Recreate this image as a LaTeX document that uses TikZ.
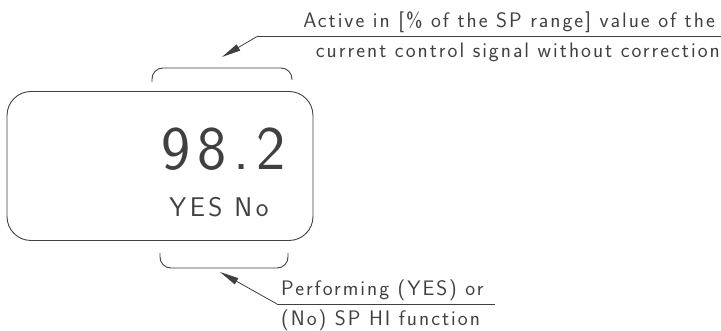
\documentclass[tikz,border=0pt]{standalone}
\usepackage{fontspec}
\setsansfont{Latin Modern Sans}
\usetikzlibrary{arrows.meta}
\definecolor{inkgray}{HTML}{404040}
\tikzstyle{display} = [
    rectangle,
    rounded corners=24pt,
    minimum width=306pt,
    minimum height=149pt,
    draw=inkgray,
    line width=0.9pt
]
\tikzstyle{label} = [
    text=inkgray,
    font=\sffamily\fontsize{21}{23}\selectfont\addfontfeature{LetterSpace=9.5},
    inner sep=0pt
]
\tikzstyle{bracket} = [draw=inkgray, line width=0.9pt, rounded corners=11pt]
\tikzstyle{leader} = [draw=inkgray, line width=0.8pt]
\tikzstyle{arrow} = [leader, -{Triangle[length=19pt,width=7pt]}]

\begin{document}
\begin{tikzpicture}[x=1pt, y=1pt]
\useasboundingbox (0,0) rectangle (721,-331);

\node (disp) [display] at (160,-166) {};

\node (value) [label, font=\sffamily\fontsize{62}{64}\selectfont\addfontfeature{LetterSpace=11}] at (224,-149) {98.2};

\node (state) [label, font=\sffamily\fontsize{27}{29}\selectfont\addfontfeature{LetterSpace=13}] at (219,-207.5) {YES No};

% upper callout
\draw [bracket] (152,-82) -- (152,-68) -- (292,-68) -- (292,-80);
\coordinate (topbr) at (222,-57);
\coordinate (topknee) at (258,-36);
\coordinate (topend) at (721,-36);
\node (actA) [label, anchor=base east] at (715,-28) {Active in [\% of the SP range] value of the};
\node (actB) [label, anchor=base east] at (720,-58) {current control signal without correction};
\draw [leader] (topend) -- (topknee);
\draw [arrow] (topknee) -- (topbr);

% lower callout
\draw [bracket] (160,-253) -- (160,-268) -- (288,-268) -- (288,-253);
\coordinate (botbr) at (220,-272);
\coordinate (botknee) at (277,-304);
\coordinate (botend) at (495,-304);
\node (perfA) [label, anchor=base west] at (281,-296) {Performing (YES) or};
\node (perfB) [label, anchor=base west] at (281,-326) {(No) SP HI function};
\draw [leader] (botend) -- (botknee);
\draw [arrow] (botknee) -- (botbr);

\end{tikzpicture}
\end{document}
